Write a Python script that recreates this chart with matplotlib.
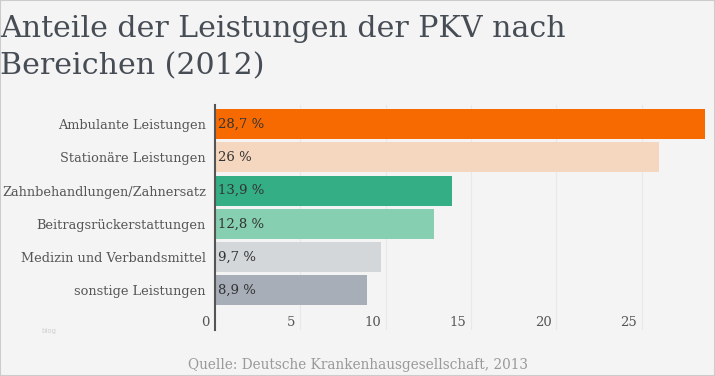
import matplotlib.pyplot as plt
import matplotlib.transforms as mtransforms

categories = ["Ambulante Leistungen", "Stationäre Leistungen", "Zahnbehandlungen/Zahnersatz",
              "Beitragsrückerstattungen", "Medizin und Verbandsmittel", "sonstige Leistungen"]
values = [28.7, 26.0, 13.9, 12.8, 9.7, 8.9]
value_labels = ["28,7 %", "26 %", "13,9 %", "12,8 %", "9,7 %", "8,9 %"]
colors = ["#f76a02", "#f5d7bf", "#33ae85", "#86cfb0", "#d4d7d9", "#a7aeb8"]
xticks = [0, 5, 10, 15, 20, 25]

W, H = 715, 376
bg = "#f4f4f4"

fig = plt.figure(figsize=(W / 100, H / 100), dpi=100, facecolor=bg)
fig.patches.append(plt.Rectangle((0, 0), 1, 1, transform=fig.transFigure,
                                 fill=False, edgecolor="#cccccc", linewidth=1.5))

# axes in pixel box: left 215, right 705, top 105, bottom 330
ax = fig.add_axes([215 / W, 1 - 330 / H, 490 / W, 225 / H])
ax.set_facecolor(bg)

y = list(range(len(categories)))
ax.barh(y, values, height=0.9, color=colors, zorder=2)
for i, lab in enumerate(value_labels):
    ax.text(0.2, i, lab, va="center", ha="left", fontsize=9.5,
            family="DejaVu Serif", color="#333333", zorder=3)

ax.set_xlim(0, 28.7)
ax.set_ylim(len(categories) - 1 + 1.19, -0.57)

ax.set_yticks(y)
ax.set_yticklabels(categories, family="DejaVu Serif", fontsize=9.3, color="#555555")
ax.tick_params(axis="y", length=0, pad=6.5)
ax.set_xticks([])

for t in xticks[1:]:
    ax.axvline(t, color="#e8e8e8", linewidth=0.8, zorder=1)

trans = mtransforms.blended_transform_factory(ax.transData, ax.transAxes)
offset = mtransforms.ScaledTranslation(-5 / 100, 0, fig.dpi_scale_trans)
for t in xticks:
    ax.text(t, 8 / 225, str(t), transform=trans + offset, ha="right", va="center",
            fontsize=9.5, family="DejaVu Serif", color="#555555")

for s in ["top", "right", "bottom"]:
    ax.spines[s].set_visible(False)
ax.spines["left"].set_color("#555555")
ax.spines["left"].set_linewidth(1.5)

fig.text(0 / W, 1 - 48 / H, "Anteile der Leistungen der PKV nach\nBereichen (2012)",
         fontsize=21.6, family="DejaVu Serif", color="#474d55", ha="left", va="center",
         linespacing=1.42)

fig.text(358 / W, 1 - 365 / H, "Quelle: Deutsche Krankenhausgesellschaft, 2013",
         fontsize=9.8, family="DejaVu Serif", color="#999999", ha="center", va="center")

fig.text(49 / W, 1 - 331 / H, "blog", fontsize=5, color="#cfcfcf", ha="center", va="center")

fig.savefig("out.png", dpi=100, facecolor=bg)
